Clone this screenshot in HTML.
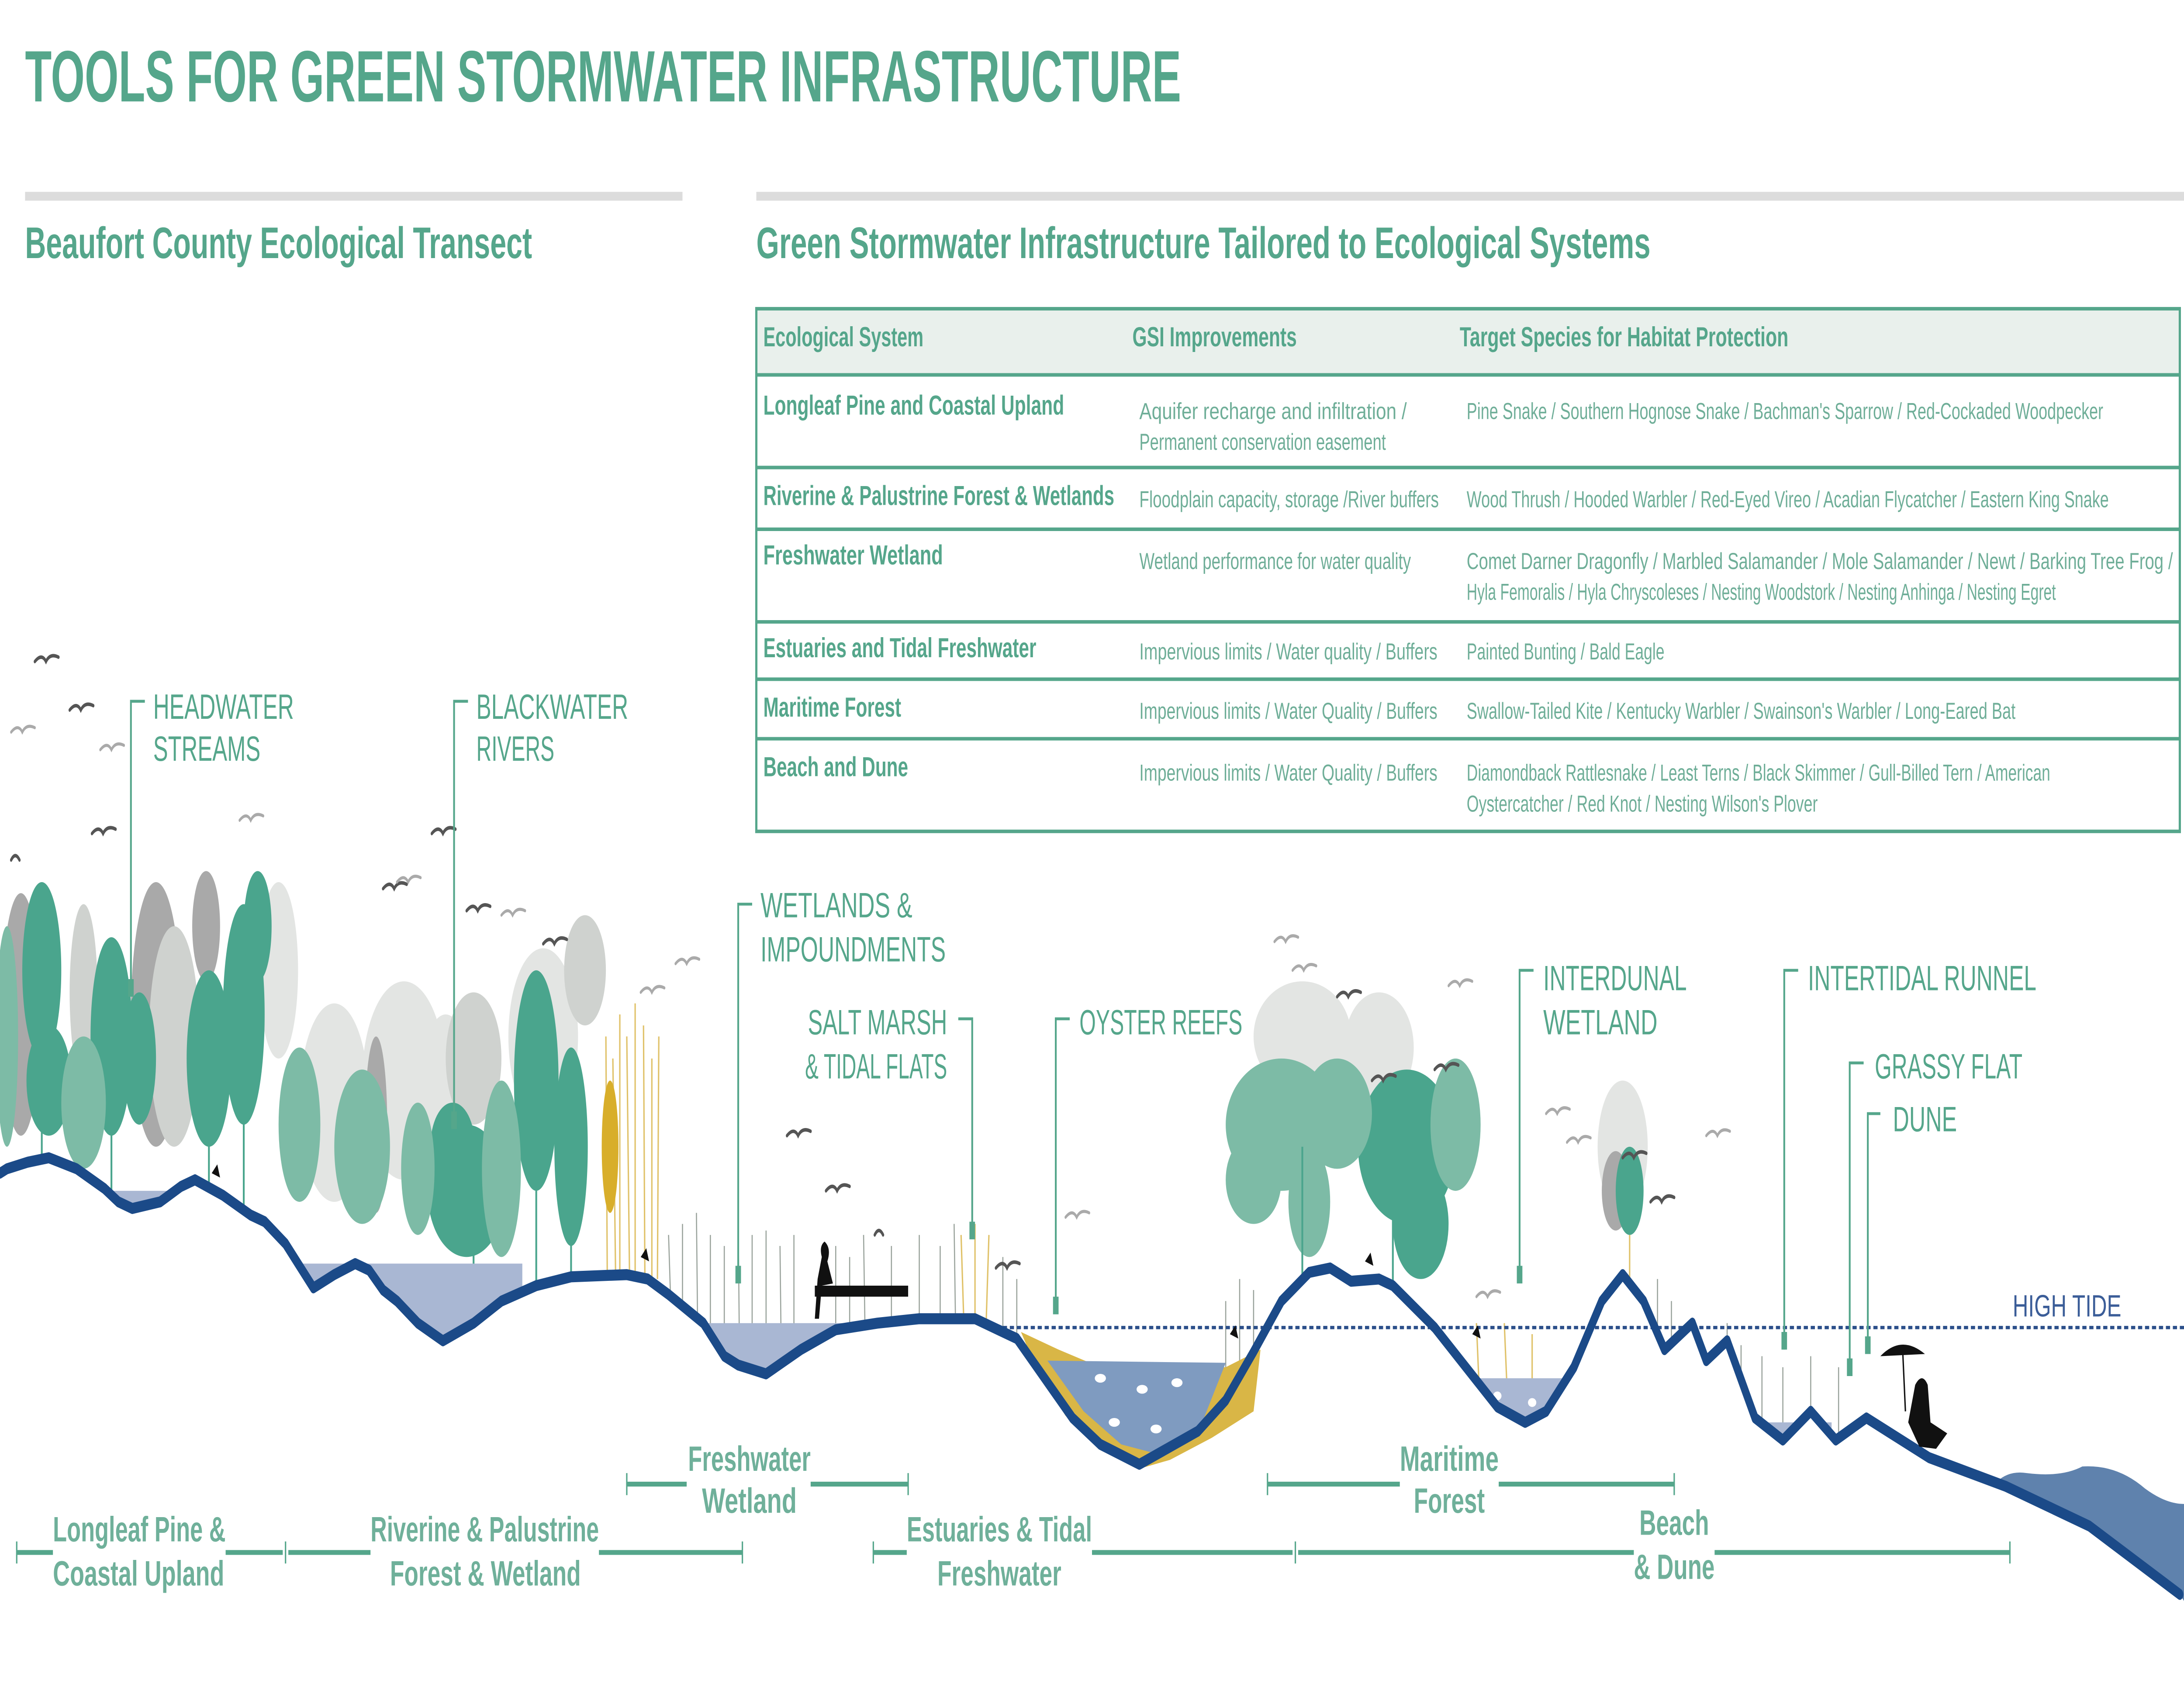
<!DOCTYPE html>
<html><head><meta charset="utf-8"><style>
html,body{margin:0;padding:0;background:#fff;width:100%;height:100%;overflow:hidden;}
svg{display:block;width:100vw;height:100vh;position:absolute;left:0;top:0;}
text{font-family:"Liberation Sans",sans-serif;}
</style></head><body>
<svg viewBox="0 0 1568 765" preserveAspectRatio="none" xmlns="http://www.w3.org/2000/svg">
<defs>
<clipPath id="air"><path d="M0,0 L1568,0 L1568,726 L1565,723 L1500,692 L1440,674 L1385,661 L1340,643 L1318,653 L1300,640 L1280,653 L1260,643 L1240,608 L1225,617 L1215,600 L1195,612 L1180,590 L1165,578 L1150,590 L1130,620 L1110,640 L1095,645 L1075,638 L1060,626 L1030,602 L1000,583 L990,580 L970,581 L955,575 L940,577 L920,590 L900,613 L880,635 L860,649 L818,664 L790,655 L770,643 L750,625 L730,607 L700,598 L660,598 L630,600 L600,603 L575,612 L550,623 L530,619 L520,615 L505,600 L480,587 L465,580 L450,578 L410,579 L385,583 L360,590 L340,600 L318,608 L300,600 L285,590 L275,585 L265,576 L255,573 L240,578 L225,584 L215,574 L205,564 L190,554 L180,551 L160,542 L140,535 L130,538 L115,545 L95,548 L85,545 L75,539 L55,530 L35,525 L20,527 L5,530 L0,532 Z"/></clipPath>
</defs>

<text x="18" y="46" font-size="33" font-weight="bold" fill="#55a68b" textLength="830" lengthAdjust="spacingAndGlyphs">TOOLS FOR GREEN STORMWATER INFRASTRUCTURE</text>
<rect x="18" y="87" width="472" height="4" fill="#dcdcdc"/>
<rect x="543" y="87" width="1025" height="4" fill="#dcdcdc"/>
<text x="18" y="117" font-size="20" font-weight="bold" fill="#55a68b" textLength="364" lengthAdjust="spacingAndGlyphs">Beaufort County Ecological Transect</text>
<text x="543" y="117" font-size="20" font-weight="bold" fill="#55a68b" textLength="642" lengthAdjust="spacingAndGlyphs">Green Stormwater Infrastructure Tailored to Ecological Systems</text>

<rect x="543" y="140" width="1022" height="30" fill="#e9f0ec"/>
<g stroke="#55a68b" stroke-width="1.6" fill="none">
<rect x="543" y="140" width="1022" height="237"/>
<line x1="543" y1="170" x2="1565" y2="170"/>
<line x1="543" y1="212" x2="1565" y2="212"/>
<line x1="543" y1="240" x2="1565" y2="240"/>
<line x1="543" y1="282" x2="1565" y2="282"/>
<line x1="543" y1="308" x2="1565" y2="308"/>
<line x1="543" y1="335" x2="1565" y2="335"/>
</g>
<g font-size="12.5" font-weight="bold" fill="#55a68b">
<text x="548" y="157" textLength="115" lengthAdjust="spacingAndGlyphs">Ecological System</text>
<text x="813" y="157" textLength="118" lengthAdjust="spacingAndGlyphs">GSI Improvements</text>
<text x="1048" y="157" textLength="236" lengthAdjust="spacingAndGlyphs">Target Species for Habitat Protection</text>
<text x="548" y="188" textLength="216" lengthAdjust="spacingAndGlyphs">Longleaf Pine and Coastal Upland</text>
<text x="548" y="229" textLength="252" lengthAdjust="spacingAndGlyphs">Riverine &amp; Palustrine Forest &amp; Wetlands</text>
<text x="548" y="256" textLength="129" lengthAdjust="spacingAndGlyphs">Freshwater Wetland</text>
<text x="548" y="298" textLength="196" lengthAdjust="spacingAndGlyphs">Estuaries and Tidal Freshwater</text>
<text x="548" y="325" textLength="99" lengthAdjust="spacingAndGlyphs">Maritime Forest</text>
<text x="548" y="352" textLength="104" lengthAdjust="spacingAndGlyphs">Beach and Dune</text>
</g>
<g font-size="10.5" fill="#6fae98">
<text x="818" y="190" textLength="192" lengthAdjust="spacingAndGlyphs">Aquifer recharge and infiltration /</text>
<text x="818" y="204" textLength="177" lengthAdjust="spacingAndGlyphs">Permanent conservation easement</text>
<text x="1053" y="190" textLength="457" lengthAdjust="spacingAndGlyphs">Pine Snake / Southern Hognose Snake / Bachman's Sparrow / Red-Cockaded Woodpecker</text>
<text x="818" y="230" textLength="215" lengthAdjust="spacingAndGlyphs">Floodplain capacity, storage /River buffers</text>
<text x="1053" y="230" textLength="461" lengthAdjust="spacingAndGlyphs">Wood Thrush / Hooded Warbler / Red-Eyed Vireo / Acadian Flycatcher / Eastern King Snake</text>
<text x="818" y="258" textLength="195" lengthAdjust="spacingAndGlyphs">Wetland performance for water quality</text>
<text x="1053" y="258" textLength="507" lengthAdjust="spacingAndGlyphs">Comet Darner Dragonfly / Marbled Salamander / Mole Salamander / Newt / Barking Tree Frog /</text>
<text x="1053" y="272" textLength="423" lengthAdjust="spacingAndGlyphs">Hyla Femoralis / Hyla Chryscoleses / Nesting Woodstork / Nesting Anhinga / Nesting Egret</text>
<text x="818" y="299" textLength="214" lengthAdjust="spacingAndGlyphs">Impervious limits / Water quality / Buffers</text>
<text x="1053" y="299" textLength="142" lengthAdjust="spacingAndGlyphs">Painted Bunting / Bald Eagle</text>
<text x="818" y="326" textLength="214" lengthAdjust="spacingAndGlyphs">Impervious limits / Water Quality / Buffers</text>
<text x="1053" y="326" textLength="394" lengthAdjust="spacingAndGlyphs">Swallow-Tailed Kite / Kentucky Warbler / Swainson's Warbler / Long-Eared Bat</text>
<text x="818" y="354" textLength="214" lengthAdjust="spacingAndGlyphs">Impervious limits / Water Quality / Buffers</text>
<text x="1053" y="354" textLength="419" lengthAdjust="spacingAndGlyphs">Diamondback Rattlesnake / Least Terns / Black Skimmer / Gull-Billed Tern / American</text>
<text x="1053" y="368" textLength="252" lengthAdjust="spacingAndGlyphs">Oystercatcher / Red Knot / Nesting Wilson's Plover</text>
</g>

<g clip-path="url(#air)">
<g fill="#e3e5e3">
<ellipse cx="240" cy="500" rx="25" ry="45"/><ellipse cx="290" cy="490" rx="30" ry="45"/><ellipse cx="320" cy="500" rx="20" ry="40"/>
<ellipse cx="200" cy="440" rx="14" ry="40"/><ellipse cx="390" cy="470" rx="25" ry="40"/>
<ellipse cx="935" cy="470" rx="35" ry="25"/><ellipse cx="990" cy="475" rx="25" ry="25"/><ellipse cx="1165" cy="520" rx="18" ry="30"/>
</g>
<g fill="#a9a9a9">
<ellipse cx="15" cy="460" rx="14" ry="55"/><ellipse cx="112" cy="460" rx="18" ry="60"/><ellipse cx="148" cy="420" rx="10" ry="25"/>
<ellipse cx="270" cy="510" rx="8" ry="40"/><ellipse cx="1160" cy="540" rx="10" ry="18"/>
</g>
<g fill="#cfd2cf">
<ellipse cx="125" cy="470" rx="18" ry="50"/><ellipse cx="60" cy="450" rx="10" ry="40"/>
<ellipse cx="340" cy="480" rx="20" ry="30"/><ellipse cx="420" cy="440" rx="15" ry="25"/>
</g>
<g fill="#4aa58d">
<ellipse cx="30" cy="440" rx="14" ry="40"/><ellipse cx="35" cy="490" rx="16" ry="25"/>
<ellipse cx="80" cy="470" rx="15" ry="45"/><ellipse cx="100" cy="480" rx="12" ry="30"/>
<ellipse cx="150" cy="480" rx="16" ry="40"/><ellipse cx="175" cy="460" rx="15" ry="50"/><ellipse cx="185" cy="420" rx="10" ry="25"/>
<ellipse cx="335" cy="540" rx="28" ry="30"/><ellipse cx="325" cy="520" rx="16" ry="20"/>
<ellipse cx="385" cy="490" rx="16" ry="50"/><ellipse cx="410" cy="520" rx="12" ry="45"/>
<ellipse cx="1010" cy="520" rx="35" ry="35"/><ellipse cx="1020" cy="555" rx="20" ry="25"/>
<ellipse cx="1170" cy="540" rx="10" ry="20"/>
</g>
<g fill="#7dbba6">
<ellipse cx="60" cy="500" rx="16" ry="30"/><ellipse cx="215" cy="510" rx="15" ry="35"/><ellipse cx="260" cy="520" rx="20" ry="35"/>
<ellipse cx="300" cy="530" rx="12" ry="30"/><ellipse cx="360" cy="530" rx="14" ry="40"/><ellipse cx="5" cy="470" rx="8" ry="50"/>
<ellipse cx="920" cy="510" rx="40" ry="30"/><ellipse cx="900" cy="535" rx="20" ry="20"/><ellipse cx="960" cy="505" rx="25" ry="25"/>
<ellipse cx="940" cy="545" rx="15" ry="25"/><ellipse cx="1045" cy="510" rx="18" ry="30"/>
</g>
<g stroke="#4aa58d" stroke-width="1.3">
<line x1="30" y1="430" x2="30" y2="535"/><line x1="80" y1="430" x2="80" y2="545"/><line x1="150" y1="450" x2="150" y2="545"/>
<line x1="175" y1="420" x2="175" y2="555"/><line x1="385" y1="460" x2="385" y2="585"/><line x1="410" y1="490" x2="410" y2="580"/>
<line x1="935" y1="520" x2="935" y2="585"/><line x1="1000" y1="530" x2="1000" y2="585"/><line x1="340" y1="540" x2="340" y2="600"/>
</g>
<g stroke="#e0c26a" stroke-width="1" fill="none">
<path d="M435,470 L436,580 M440,480 L442,580 M445,460 L445,580 M450,470 L452,580 M456,455 L456,580 M462,465 L463,580 M468,480 L468,580 M473,470 L472,580"/>
<path d="M690,560 L692,600 M700,555 L700,600 M710,560 L708,600 M1170,560 L1170,585 M1060,600 L1062,630 M1080,600 L1082,630 M1100,605 L1100,630"/>
</g>
<ellipse cx="438" cy="520" rx="6" ry="30" fill="#d8ae2a"/>
<g stroke="#9aa39c" stroke-width="0.8">
<path d="M480,560 L482,600 M490,555 L490,605 M500,550 L501,610 M510,560 L510,615 M520,565 L520,620 M530,555 L531,620 M540,560 L540,620 M550,558 L550,625 M560,565 L561,620 M570,560 L570,615 M600,565 L600,605 M610,570 L610,603 M620,560 L621,602 M640,565 L640,600 M660,560 L660,600 M675,565 L675,600 M685,555 L686,600 M720,570 L720,605 M730,580 L730,610"/>
<path d="M880,590 L880,640 M890,580 L890,630 M900,585 L900,620 M1240,600 L1240,620 M1250,610 L1250,640 M1265,615 L1265,650 M1280,620 L1280,650 M1300,615 L1300,640 M1320,620 L1320,650 M1190,580 L1190,610 M1200,590 L1200,610"/>
</g>
<g fill="#a9b7d3">
<rect x="75" y="540" width="50" height="20"/>
<rect x="205" y="573" width="170" height="60"/>
<rect x="470" y="600" width="140" height="40"/>
<rect x="1040" y="625" width="95" height="40"/>
<rect x="1260" y="645" width="55" height="15"/>
</g>
<path d="M1425,680 Q1435,666 1455,668 Q1480,670 1495,665 Q1520,664 1540,675 Q1555,682 1568,682 L1568,765 L1425,765 Z" fill="#5f82ad"/>
</g>

<path d="M733,604 L760,612 L790,620 L880,620 L905,612 L900,640 L870,652 L840,662 L818,666 L790,657 L765,642 L745,622 Z" fill="#d9b646"/>
<path d="M752,617 L880,618 L860,650 L835,660 L805,655 L778,640 Z" fill="#7f9bc0"/>
<g fill="#fff">
<ellipse cx="790" cy="625" rx="4" ry="2"/><ellipse cx="820" cy="630" rx="4" ry="2"/><ellipse cx="845" cy="627" rx="4" ry="2"/>
<ellipse cx="800" cy="645" rx="4" ry="2"/><ellipse cx="830" cy="648" rx="4" ry="2"/><ellipse cx="1075" cy="633" rx="3" ry="2"/><ellipse cx="1100" cy="636" rx="3" ry="2"/>
</g>

<line x1="720" y1="602" x2="1568" y2="602" stroke="#2b4f8a" stroke-width="1.5" stroke-dasharray="3,2"/>
<text x="1445" y="597" font-size="14" fill="#3b5d98" textLength="78" lengthAdjust="spacingAndGlyphs">HIGH TIDE</text>

<path d="M0,532 L5,530 L20,527 L35,525 L55,530 L75,539 L85,545 L95,548 L115,545 L130,538 L140,535 L160,542 L180,551 L190,554 L205,564 L215,574 L225,584 L240,578 L255,573 L265,576 L275,585 L285,590 L300,600 L318,608 L340,600 L360,590 L385,583 L410,579 L450,578 L465,580 L480,587 L505,600 L520,615 L530,619 L550,623 L575,612 L600,603 L630,600 L660,598 L700,598 L730,607 L750,625 L770,643 L790,655 L818,664 L860,649 L880,635 L900,613 L920,590 L940,577 L955,575 L970,581 L990,580 L1000,583 L1030,602 L1060,626 L1075,638 L1095,645 L1110,640 L1130,620 L1150,590 L1165,578 L1180,590 L1195,612 L1215,600 L1225,617 L1240,608 L1260,643 L1280,653 L1300,640 L1318,653 L1340,643 L1385,661 L1440,674 L1500,692 L1565,723" fill="none" stroke="#1b4a88" stroke-width="5" stroke-linejoin="round" stroke-linecap="round"/>

<rect x="585" y="583" width="67" height="5" fill="#111"/>
<path d="M590,570 Q588,565 592,563 Q597,566 594,572 L598,582 L590,583 L588,598 L585,598 L587,580 Z" fill="#111"/>
<path d="M1350,615 Q1365,605 1382,614 Z" fill="#111"/>
<line x1="1366" y1="612" x2="1368" y2="640" stroke="#111" stroke-width="1"/>
<path d="M1375,628 Q1380,622 1384,628 L1386,645 L1398,650 L1390,657 L1378,656 L1370,645 Z" fill="#111"/>
<path d="M152,532 l4,-4 l2,6 z M460,570 l4,-4 l2,6 z M883,605 l4,-4 l2,6 z M980,572 l4,-4 l2,6 z M1057,605 l4,-4 l2,6 z" fill="#111"/>

<g stroke="#555" stroke-width="1.6" fill="none" stroke-linecap="round">
<path d="M25,300 q5,-4 8,0 q3,-4 9,-2"/><path d="M50,322 q5,-4 8,0 q3,-4 9,-2"/><path d="M66,378 q5,-4 8,0 q3,-4 9,-2"/>
<path d="M310,378 q5,-4 8,0 q3,-4 9,-2"/><path d="M275,403 q5,-4 8,0 q3,-4 9,-2"/><path d="M335,413 q5,-4 8,0 q3,-4 9,-2"/>
<path d="M390,428 q5,-4 8,0 q3,-4 9,-2"/><path d="M565,515 q5,-4 8,0 q3,-4 9,-2"/><path d="M593,540 q5,-4 8,0 q3,-4 9,-2"/>
<path d="M715,575 q5,-4 8,0 q3,-4 9,-2"/><path d="M960,452 q5,-4 8,0 q3,-4 9,-2"/><path d="M985,490 q5,-4 8,0 q3,-4 9,-2"/>
<path d="M1030,485 q5,-4 8,0 q3,-4 9,-2"/><path d="M1185,545 q5,-4 8,0 q3,-4 9,-2"/><path d="M1165,525 q5,-4 8,0 q3,-4 9,-2"/>
<path d="M8,390 q3,-4 6,0"/><path d="M628,560 q3,-4 6,0"/>
</g>
<g stroke="#aaa" stroke-width="1.4" fill="none" stroke-linecap="round">
<path d="M8,332 q5,-4 8,0 q3,-4 9,-2"/><path d="M72,340 q5,-4 8,0 q3,-4 9,-2"/><path d="M172,372 q5,-4 8,0 q3,-4 9,-2"/>
<path d="M285,400 q5,-4 8,0 q3,-4 9,-2"/><path d="M360,415 q5,-4 8,0 q3,-4 9,-2"/><path d="M460,450 q5,-4 8,0 q3,-4 9,-2"/>
<path d="M485,437 q5,-4 8,0 q3,-4 9,-2"/><path d="M765,552 q5,-4 8,0 q3,-4 9,-2"/><path d="M915,427 q5,-4 8,0 q3,-4 9,-2"/>
<path d="M928,440 q5,-4 8,0 q3,-4 9,-2"/><path d="M1040,447 q5,-4 8,0 q3,-4 9,-2"/><path d="M1110,505 q5,-4 8,0 q3,-4 9,-2"/>
<path d="M1125,518 q5,-4 8,0 q3,-4 9,-2"/><path d="M1225,515 q5,-4 8,0 q3,-4 9,-2"/><path d="M1060,588 q5,-4 8,0 q3,-4 9,-2"/>
</g>

<g stroke="#55a68b" stroke-width="1.3" fill="none">
<path d="M104,318 L94,318 L94,450"/><path d="M336,318 L326,318 L326,510"/><path d="M540,410 L530,410 L530,580"/>
<path d="M688,462 L698,462 L698,560"/><path d="M768,462 L758,462 L758,595"/><path d="M1101,440 L1091,440 L1091,580"/>
<path d="M1291,440 L1281,440 L1281,612"/><path d="M1338,482 L1328,482 L1328,622"/><path d="M1350,505 L1341,505 L1341,612"/>
</g>
<g fill="#55a68b">
<rect x="92" y="444" width="4" height="8"/><rect x="324" y="504" width="4" height="8"/><rect x="528" y="574" width="4" height="8"/>
<rect x="696" y="554" width="4" height="8"/><rect x="756" y="588" width="4" height="8"/><rect x="1089" y="574" width="4" height="8"/>
<rect x="1279" y="604" width="4" height="8"/><rect x="1326" y="616" width="4" height="8"/><rect x="1339" y="606" width="4" height="8"/>
</g>
<g font-size="16" fill="#55a68b">
<text x="110" y="326" textLength="101" lengthAdjust="spacingAndGlyphs">HEADWATER</text>
<text x="110" y="345" textLength="77" lengthAdjust="spacingAndGlyphs">STREAMS</text>
<text x="342" y="326" textLength="109" lengthAdjust="spacingAndGlyphs">BLACKWATER</text>
<text x="342" y="345" textLength="56" lengthAdjust="spacingAndGlyphs">RIVERS</text>
<text x="546" y="416" textLength="109" lengthAdjust="spacingAndGlyphs">WETLANDS &amp;</text>
<text x="546" y="436" textLength="133" lengthAdjust="spacingAndGlyphs">IMPOUNDMENTS</text>
<text x="580" y="469" textLength="100" lengthAdjust="spacingAndGlyphs">SALT MARSH</text>
<text x="578" y="489" textLength="102" lengthAdjust="spacingAndGlyphs">&amp; TIDAL FLATS</text>
<text x="775" y="469" textLength="117" lengthAdjust="spacingAndGlyphs">OYSTER REEFS</text>
<text x="1108" y="449" textLength="103" lengthAdjust="spacingAndGlyphs">INTERDUNAL</text>
<text x="1108" y="469" textLength="82" lengthAdjust="spacingAndGlyphs">WETLAND</text>
<text x="1298" y="449" textLength="164" lengthAdjust="spacingAndGlyphs">INTERTIDAL RUNNEL</text>
<text x="1346" y="489" textLength="106" lengthAdjust="spacingAndGlyphs">GRASSY FLAT</text>
<text x="1359" y="513" textLength="46" lengthAdjust="spacingAndGlyphs">DUNE</text>
</g>

<g stroke="#55a68b" stroke-width="2.2">
<line x1="12" y1="704" x2="38" y2="704"/><line x1="162" y1="704" x2="203" y2="704"/><line x1="207" y1="704" x2="266" y2="704"/>
<line x1="430" y1="704" x2="533" y2="704"/><line x1="627" y1="704" x2="651" y2="704"/><line x1="784" y1="704" x2="928" y2="704"/>
<line x1="932" y1="704" x2="1173" y2="704"/><line x1="1231" y1="704" x2="1443" y2="704"/>
<line x1="450" y1="673" x2="493" y2="673"/><line x1="582" y1="673" x2="652" y2="673"/>
<line x1="910" y1="673" x2="1005" y2="673"/><line x1="1076" y1="673" x2="1202" y2="673"/>
</g>
<g stroke="#55a68b" stroke-width="1">
<line x1="12" y1="699" x2="12" y2="709"/><line x1="205" y1="699" x2="205" y2="709"/><line x1="533" y1="699" x2="533" y2="709"/>
<line x1="627" y1="699" x2="627" y2="709"/><line x1="930" y1="699" x2="930" y2="709"/><line x1="1443" y1="699" x2="1443" y2="709"/>
<line x1="450" y1="668" x2="450" y2="678"/><line x1="652" y1="668" x2="652" y2="678"/><line x1="910" y1="668" x2="910" y2="678"/><line x1="1202" y1="668" x2="1202" y2="678"/>
</g>
<g font-size="16" font-weight="bold" fill="#6fb09a">
<text x="38" y="699" textLength="124" lengthAdjust="spacingAndGlyphs">Longleaf Pine &amp;</text>
<text x="38" y="719" textLength="123" lengthAdjust="spacingAndGlyphs">Coastal Upland</text>
<text x="266" y="699" textLength="164" lengthAdjust="spacingAndGlyphs">Riverine &amp; Palustrine</text>
<text x="280" y="719" textLength="137" lengthAdjust="spacingAndGlyphs">Forest &amp; Wetland</text>
<text x="494" y="667" textLength="88" lengthAdjust="spacingAndGlyphs">Freshwater</text>
<text x="504" y="686" textLength="68" lengthAdjust="spacingAndGlyphs">Wetland</text>
<text x="651" y="699" textLength="133" lengthAdjust="spacingAndGlyphs">Estuaries &amp; Tidal</text>
<text x="673" y="719" textLength="89" lengthAdjust="spacingAndGlyphs">Freshwater</text>
<text x="1005" y="667" textLength="71" lengthAdjust="spacingAndGlyphs">Maritime</text>
<text x="1015" y="686" textLength="51" lengthAdjust="spacingAndGlyphs">Forest</text>
<text x="1177" y="696" textLength="50" lengthAdjust="spacingAndGlyphs">Beach</text>
<text x="1173" y="716" textLength="58" lengthAdjust="spacingAndGlyphs">&amp; Dune</text>
</g>
</svg>
</body></html>
